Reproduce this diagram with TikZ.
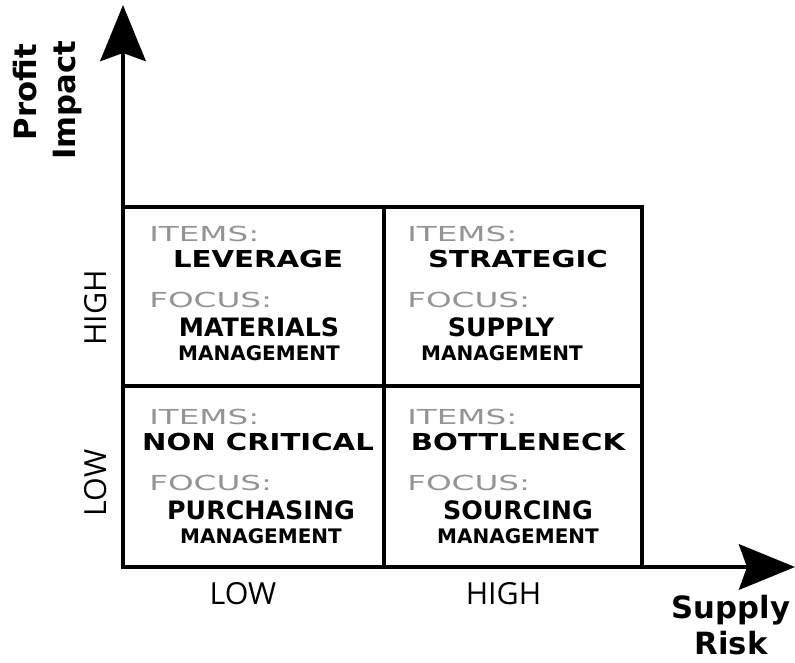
\documentclass[tikz,border=0pt]{standalone}
\usepackage{fontspec}
\setmainfont{DejaVu Sans}
\newfontfamily\tagfont{DejaVu Sans}[FakeStretch=1.58]
\newfontfamily\itemfont{DejaVu Sans}[FakeStretch=1.25]
\newfontfamily\levelfont{Open Sans}
\usetikzlibrary{arrows.meta}

\begin{document}
\begin{tikzpicture}[x=0.75pt,y=-0.75pt,
    box/.style={line width=2.7pt},
    axis/.style={line width=3.6pt,-{Stealth[length=42pt,width=34pt,inset=6pt]}},
    tag/.style={anchor=west,inner sep=0pt,text=tagc,font=\tagfont\fontsize{15.5}{18}\selectfont},
    itemname/.style={inner sep=0pt,font=\itemfont\bfseries\fontsize{17.5}{20}\selectfont},
    focusname/.style={inner sep=0pt,font=\bfseries\fontsize{19}{22}\selectfont},
    mgmt/.style={inner sep=0pt,font=\bfseries\fontsize{15}{18}\selectfont},
    level/.style={inner sep=0pt,font=\levelfont\fontsize{22.8}{26}\selectfont},
    axislabel/.style={inner sep=0pt,font=\bfseries\fontsize{23}{27}\selectfont}]
        \colorlet{tagc}{black!42}
        \useasboundingbox (0,0) rectangle (795,663);

        \coordinate (origin) at (123,567);
        \coordinate (ytip) at (123,5);
        \coordinate (xtip) at (795,567);

        % the four cells
        \draw [box] (origin) rectangle (642,207);
        \draw [box] (384,207) -- (384,567) (123,386) -- (642,386);

        \foreach \tx/\ty/\ix/\fx/\mx/\item/\focus [count=\n] in {
            149/0/258/259/259/LEVERAGE/MATERIALS,
            407/0/518/501/502/STRATEGIC/SUPPLY,
            149/183/258/261/261/NON CRITICAL/PURCHASING,
            407/183/518/518/518/BOTTLENECK/SOURCING} {
            \node [tag] (items-\n) at (\tx,{233.5+\ty}) {ITEMS:};
            \node [itemname] (item-\n) at (\ix,{259+\ty}) {\item};
            \node [tag] (focus-\n) at (\tx,{300+\ty}) {FOCUS:};
            \node [focusname] (focusname-\n) at (\fx,{327+\ty}) {\focus};
            \node [mgmt] (mgmt-\n) at (\mx,{353+\ty}) {MANAGEMENT};
        }

        % axes
        \draw [axis] (origin) -- (ytip);
        \draw [axis] (origin) -- (xtip);

        \node [level,rotate=90] (ylow) at (96,483) {LOW};
        \node [level,rotate=90] (yhigh) at (96,308) {HIGH};
        \node [level] (xlow) at (243,593.5) {LOW};
        \node [level] (xhigh) at (503.5,593.5) {HIGH};

        \node [axislabel,rotate=90] (profit) at (25,92) {Profit};
        \node [axislabel,rotate=90] (impact) at (68,100) {Impact};
        \node [axislabel] (supply) at (731,610) {Supply};
        \node [axislabel] (risk) at (731,643) {Risk};
    \end{tikzpicture}
\end{document}
